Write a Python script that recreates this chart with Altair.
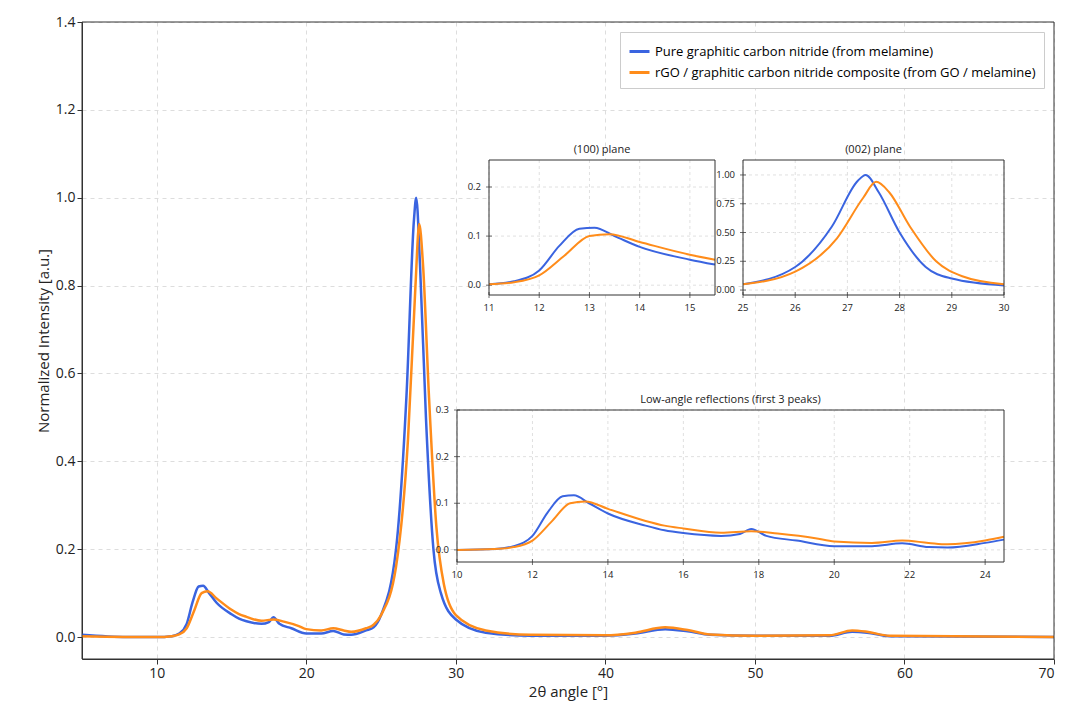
import altair as alt
import pandas as pd

blue_x = [5,8,10,11,11.5,12,12.4,12.8,13.1,13.5,14,15,15.5,16,17,17.5,17.8,18.2,19,20,21,21.8,22.5,23,24,24.5,25,26,26.7,27.2,27.35,27.6,28,28.5,29,30,32,35,40,42,44,45.5,47,50,55,56.5,57.5,59,70]
blue_y = [0.005,0,0,0.002,0.008,0.03,0.08,0.115,0.117,0.1,0.078,0.052,0.042,0.036,0.03,0.034,0.045,0.03,0.02,0.008,0.008,0.014,0.006,0.005,0.015,0.022,0.05,0.2,0.55,0.95,1.0,0.85,0.5,0.2,0.1,0.04,0.01,0.003,0.003,0.008,0.018,0.013,0.005,0.003,0.003,0.012,0.01,0.002,0]
orange_x = [5,10,11,11.5,12,12.5,13,13.4,14,15,15.5,16,17,17.8,18.5,19.5,20,21,21.8,22.5,23,24,24.5,25,26,26.8,27.3,27.55,27.8,28.2,28.7,29.2,30,32,35,40,42,44,45.5,47,50,55,56.5,57.5,59,70]
orange_y = [0.002,0,0.002,0.006,0.02,0.06,0.1,0.104,0.088,0.062,0.052,0.046,0.037,0.04,0.035,0.025,0.018,0.015,0.02,0.015,0.012,0.02,0.028,0.05,0.16,0.45,0.8,0.94,0.85,0.55,0.25,0.12,0.05,0.015,0.005,0.004,0.01,0.022,0.016,0.006,0.003,0.004,0.015,0.012,0.003,0]

S1 = "Pure graphitic carbon nitride (from melamine)"
S2 = "rGO / graphitic carbon nitride composite (from GO / melamine)"
df = pd.concat([pd.DataFrame({"x": blue_x, "y": blue_y, "s": S1}),
                pd.DataFrame({"x": orange_x, "y": orange_y, "s": S2})])

FONT = "Open Sans"
color = alt.Color("s:N", scale=alt.Scale(domain=[S1, S2], range=["#3a64e0", "#ff8c1a"]),
                  legend=alt.Legend(title=None, orient="top-right", labelFontSize=13, labelFont=FONT,
                                    symbolType="stroke", symbolStrokeWidth=3, symbolSize=400,
                                    strokeColor="#cccccc", fillColor="white", padding=8, labelLimit=500,
                                    offset=10))

W, H = 972, 637
XD, YD = [5, 70], [-0.05, 1.4]
main = alt.Chart(df).mark_line(strokeWidth=2.5, interpolate="monotone").encode(
    x=alt.X("x:Q", scale=alt.Scale(domain=XD, nice=False),
            axis=alt.Axis(title="2θ angle [°]", values=list(range(10, 71, 10)), gridDash=[4, 4],
                          gridColor="#dddddd", titleFontSize=15, labelFontSize=14, titleFontWeight="normal")),
    y=alt.Y("y:Q", scale=alt.Scale(domain=YD, nice=False, zero=False),
            axis=alt.Axis(title="Normalized Intensity [a.u.]", values=[0, .2, .4, .6, .8, 1.0, 1.2, 1.4],
                          format=".1f", gridDash=[4, 4], gridColor="#dddddd", titleFontSize=15,
                          labelFontSize=14, titleFontWeight="normal")),
    color=color)
mframe = alt.Chart(pd.DataFrame({"x": [XD[0]], "x2": [XD[1]], "y": [YD[0]], "y2": [YD[1]]})).mark_rect(
    fill=None, fillOpacity=0, stroke="#333333", strokeWidth=1).encode(x="x:Q", x2="x2", y="y:Q", y2="y2")
main = alt.layer(main, mframe)


def inset(xd, xr, yd, yr, xticks, yticks, xlab, ylab, title):
    xs = alt.Scale(domain=xd, range=xr, nice=False, zero=False)
    ys = alt.Scale(domain=yd, range=yr, nice=False, zero=False)
    box = pd.DataFrame({"x": [xd[0]], "x2": [xd[1]], "y": [yd[0]], "y2": [yd[1]]})
    bg = alt.Chart(box).mark_rect(fill="white", strokeWidth=0).encode(
        x=alt.X("x:Q", scale=xs, axis=None), x2="x2", y=alt.Y("y:Q", scale=ys, axis=None), y2="y2")
    fr = alt.Chart(box).mark_rect(fill=None, fillOpacity=0, stroke="#333333", strokeWidth=1).encode(
        x=alt.X("x:Q", scale=xs), x2="x2", y=alt.Y("y:Q", scale=ys), y2="y2")
    gx = pd.DataFrame({"x": xticks, "y": yd[0], "y2": yd[1], "t": xlab})
    gy = pd.DataFrame({"y": yticks, "x": xd[0], "x2": xd[1], "t": ylab})
    g1 = alt.Chart(gx).mark_rule(color="#e0e0e0", strokeDash=[3, 3]).encode(
        x=alt.X("x:Q", scale=xs), y=alt.Y("y:Q", scale=ys), y2="y2")
    g2 = alt.Chart(gy).mark_rule(color="#e0e0e0", strokeDash=[3, 3]).encode(
        y=alt.Y("y:Q", scale=ys), x=alt.X("x:Q", scale=xs), x2="x2")
    tx = alt.Chart(gx).mark_tick(orient="vertical", size=6, thickness=1, color="#333333", dy=3).encode(
        x=alt.X("x:Q", scale=xs), y=alt.Y("y:Q", scale=ys))
    ty = alt.Chart(gy).mark_tick(orient="horizontal", size=6, thickness=1, color="#333333", dx=-3).encode(
        x=alt.X("x:Q", scale=xs), y=alt.Y("y:Q", scale=ys))
    lx = alt.Chart(gx).mark_text(dy=13, fontSize=9.5, font=FONT, color="#222222").encode(
        x=alt.X("x:Q", scale=xs), y=alt.Y("y:Q", scale=ys), text="t:N")
    ly = alt.Chart(gy).mark_text(dx=-8, align="right", baseline="middle", fontSize=9.5, font=FONT,
                                 color="#222222").encode(
        x=alt.X("x:Q", scale=xs), y=alt.Y("y:Q", scale=ys), text="t:N")
    ln = alt.Chart(df).transform_filter(
        (alt.datum.x >= xd[0]) & (alt.datum.x <= xd[1])).mark_line(
        strokeWidth=2, interpolate="monotone").encode(
        x=alt.X("x:Q", scale=xs), y=alt.Y("y:Q", scale=ys), color=color)
    t = pd.DataFrame({"x": [(xd[0] + xd[1]) / 2], "y": [yd[1]], "t": [title]})
    tt = alt.Chart(t).mark_text(dy=-10, fontSize=11, font=FONT, color="#222222").encode(
        x=alt.X("x:Q", scale=xs), y=alt.Y("y:Q", scale=ys), text="t:N")
    return alt.layer(bg, g1, g2, tx, ty, lx, ly, ln, fr, tt)


i1 = inset([11, 15.5], [407, 633], [-0.02, 0.255], [273, 138], [11, 12, 13, 14, 15], [0, 0.1, 0.2],
           ["11", "12", "13", "14", "15"], ["0.0", "0.1", "0.2"], "(100) plane")
i2 = inset([25, 30], [661, 922], [-0.043, 1.13], [273, 138], [25, 26, 27, 28, 29, 30], [0, .25, .5, .75, 1.0],
           ["25", "26", "27", "28", "29", "30"], ["0.00", "0.25", "0.50", "0.75", "1.00"], "(002) plane")
i3 = inset([10, 24.5], [375, 922], [-0.026, 0.3], [540, 388], [10, 12, 14, 16, 18, 20, 22, 24], [0, .1, .2, .3],
           ["10", "12", "14", "16", "18", "20", "22", "24"], ["0.0", "0.1", "0.2", "0.3"],
           "Low-angle reflections (first 3 peaks)")

chart = alt.layer(main, i1, i2, i3).resolve_scale(x="independent", y="independent").properties(
    width=W, height=H, padding={"left": 28, "top": 7, "right": 5, "bottom": 5}).configure(font=FONT).configure_view(
    stroke=None).configure_axis(
    labelColor="#222222", titleColor="#222222", domainColor="#333333", tickColor="#333333")

chart.save("out.html", embed_options={"renderer": "svg", "actions": False})
